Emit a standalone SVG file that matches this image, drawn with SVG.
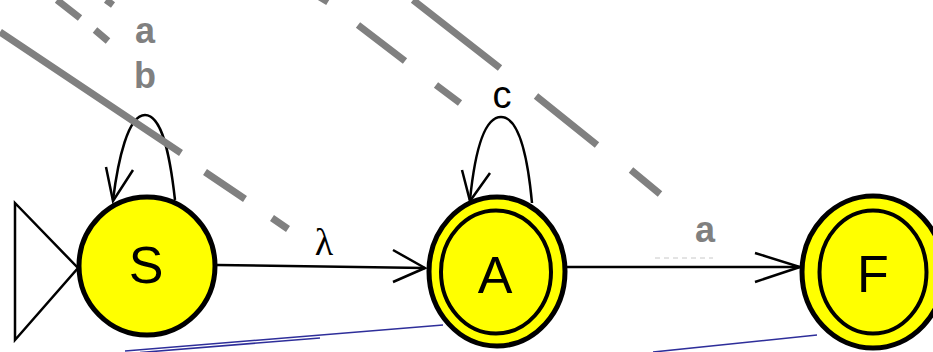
<svg xmlns="http://www.w3.org/2000/svg" width="933" height="352" viewBox="0 0 933 352">
  <style>
    .node { fill: #ffff00; stroke: #000; stroke-width: 5; }
    .inner { fill: none; stroke: #000; stroke-width: 4; }
    .state { font-family: "Liberation Sans", Arial, sans-serif; font-size: 52px; fill: #000; text-anchor: middle; }
    .edge { fill: none; stroke: #000; stroke-width: 2.5; }
    .lbl { font-family: "Liberation Sans", Arial, sans-serif; font-size: 38px; fill: #000; text-anchor: middle; }
    .glbl { font-family: "Liberation Sans", Arial, sans-serif; font-size: 36px; font-weight: bold; fill: #808080; text-anchor: middle; }
    .lam { font-family: "Liberation Serif", "DejaVu Serif", serif; font-size: 38px; fill: #000; text-anchor: middle; }
    .gray { fill: none; stroke: #808080; stroke-width: 7; stroke-linecap: butt; }
    .blue { fill: none; stroke: #2e2e9a; stroke-width: 1.6; }
  </style>

  <!-- start marker -->
  <g id="start">
    <polygon points="15,203 78,268 15,340" fill="#fff" stroke="#000" stroke-width="2.5"/>
  </g>

  <!-- connectors -->
  <g id="connectors">
    <!-- S self loop -->
    <path class="edge" d="M175,200 C170,155 162,115 145,115 C128,115 118,160 113,200"/>
    <path class="edge" d="M106,167 L113,201 L133,170"/>
    <!-- S -> A -->
    <path class="edge" d="M217,265 L425,268"/>
    <path class="edge" d="M393,250 L425,268 L393,282"/>
    <!-- A self loop -->
    <path class="edge" d="M532,203 C528,160 520,117 501,117 C482,117 474,160 470,200"/>
    <path class="edge" d="M462,170 L470,201 L490,173"/>
    <!-- A -> F -->
    <path class="edge" d="M567,267 L800,267" stroke-width="3"/>
    <path class="edge" d="M755,253 L800,267 L755,282" stroke-width="3"/>
    <line x1="655" y1="258" x2="713" y2="258" stroke="#c8c8c8" stroke-width="1" stroke-dasharray="5,4"/>
    <text class="glbl" x="145" y="43">a</text>
    <text class="glbl" x="145" y="88">b</text>
    <text class="lam" x="324" y="255">λ</text>
    <text class="lbl" x="502" y="108">c</text>
    <text class="glbl" x="705" y="242">a</text>
  </g>

  <!-- nodes -->
  <g id="node-S">
    <ellipse class="node" cx="147" cy="266" rx="68" ry="69"/>
    <text class="state" x="146" y="283">S</text>
  </g>
  <g id="node-A">
    <ellipse class="node" cx="497" cy="271.5" rx="68" ry="74.5"/>
    <ellipse class="inner" cx="496" cy="272" rx="55" ry="61.5"/>
    <text class="state" x="495" y="293">A</text>
  </g>
  <g id="node-F">
    <ellipse class="node" cx="873" cy="272" rx="71" ry="76"/>
    <ellipse class="inner" cx="873" cy="272" rx="53.5" ry="61.5"/>
    <text class="state" x="873" y="292">F</text>
  </g>

  <!-- gray overlay strokes -->
  <g id="overlay-gray">
    <path class="gray" d="M0,32 L181,153 M205,172 L245,199 M272,218 L288,229"/>
    <path class="gray" d="M57,0 L80,18 M95,30 L108,41 M106,0 L113,5"/>
    <path class="gray" d="M318,-4 L328,2 M358,25 L405,61 M436,85 L460,103"/>
    <path class="gray" d="M413,0 L500,68 M536,96 L597,145 M631,170 L660,194"/>
  </g>

  <!-- blue lines -->
  <g id="overlay-blue">
    <line class="blue" x1="125" y1="351" x2="443" y2="325"/>
    <line class="blue" x1="140" y1="352.5" x2="320" y2="338"/>
    <line class="blue" x1="653" y1="352" x2="817" y2="335"/>
  </g>
</svg>
